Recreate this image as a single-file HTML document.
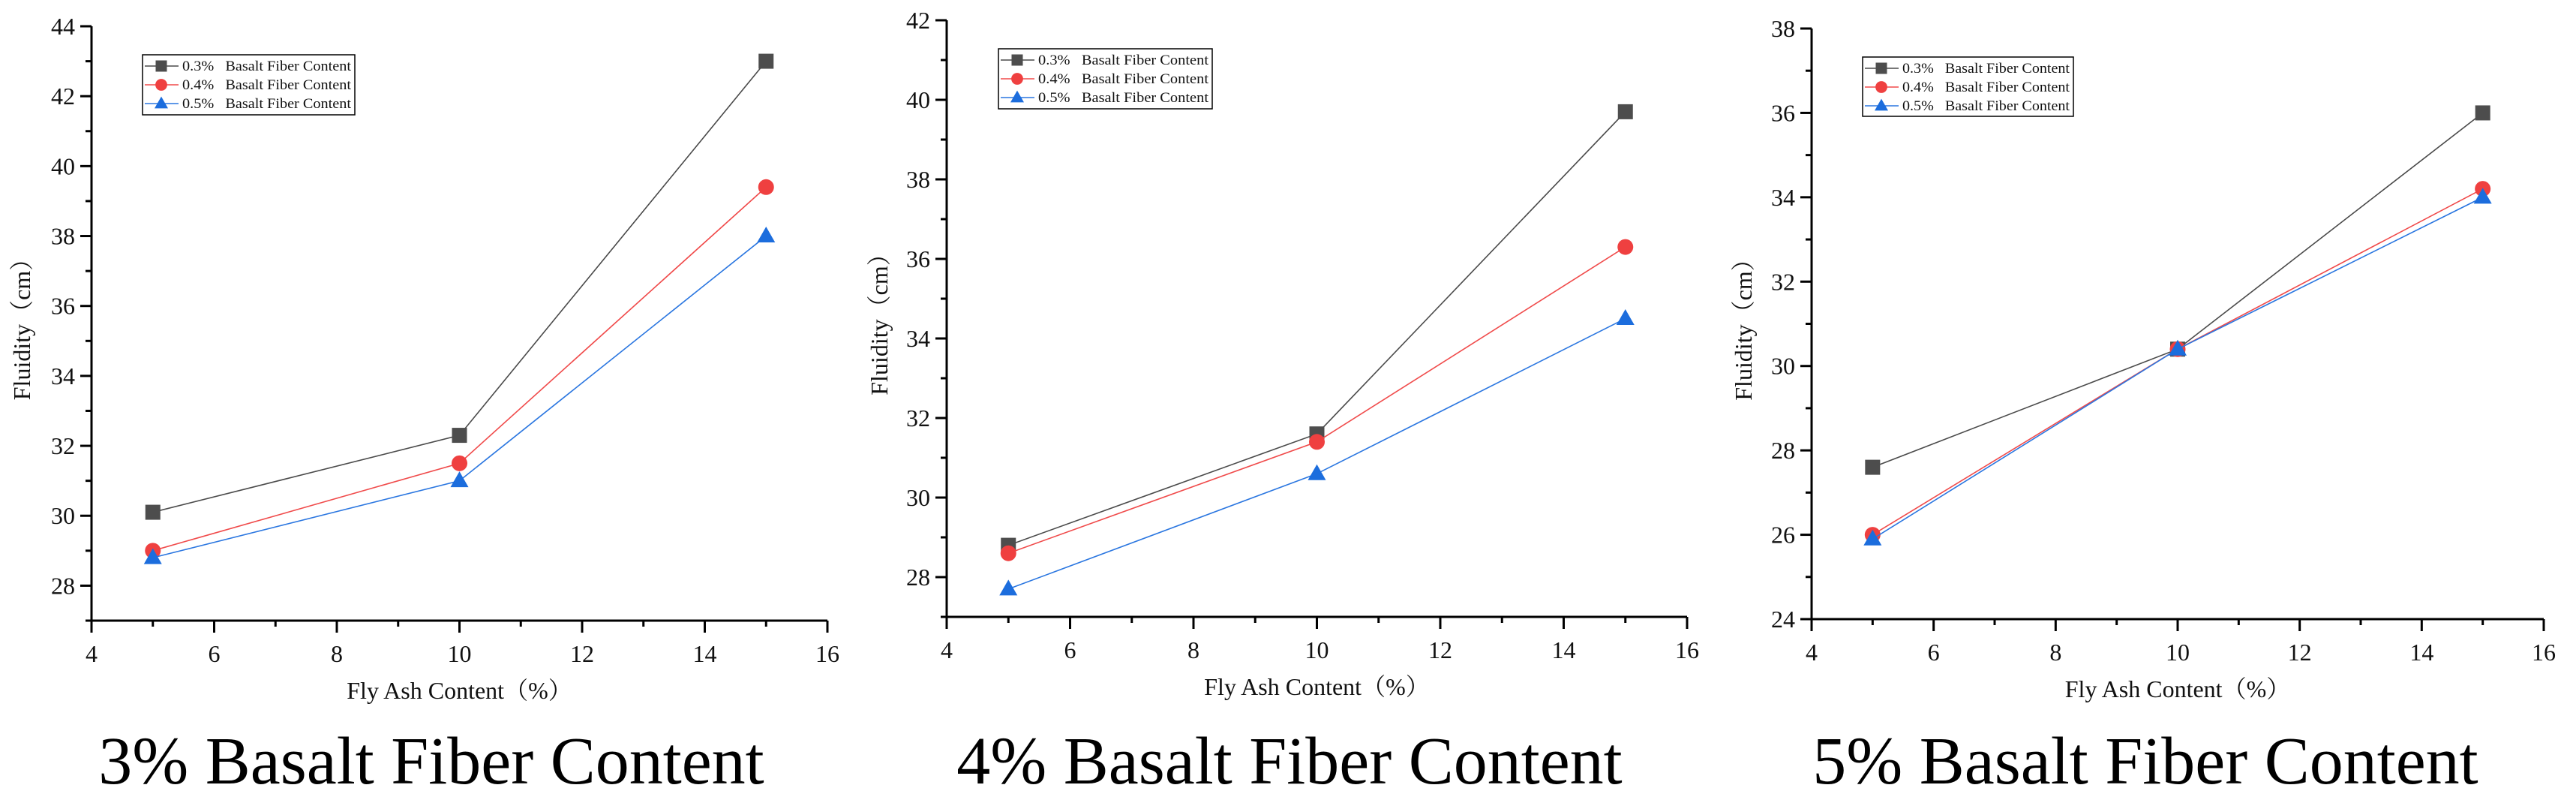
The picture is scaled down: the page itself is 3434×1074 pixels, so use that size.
<!DOCTYPE html>
<html><head><meta charset="utf-8"><style>
html,body{margin:0;padding:0;background:#fff;}
svg{display:block;font-family:"Liberation Serif","Noto Serif CJK SC",serif;}
</style></head><body>
<svg id="chart" width="3434" height="1074" viewBox="0 0 3434 1074" xmlns="http://www.w3.org/2000/svg"></svg>
<script>
const xValues = [5, 10, 15];
const seriesLabels = ["0.3%   Basalt Fiber Content","0.4%   Basalt Fiber Content","0.5%   Basalt Fiber Content"];
const p1Series03 = [30.1, 32.3, 43.0];
const p1Series04 = [29.0, 31.5, 39.4];
const p1Series05 = [28.8, 31.0, 38.0];
const p2Series03 = [28.8, 31.6, 39.7];
const p2Series04 = [28.6, 31.4, 36.3];
const p2Series05 = [27.7, 30.6, 34.5];
const p3Series03 = [27.6, 30.4, 36.0];
const p3Series04 = [26.0, 30.4, 34.2];
const p3Series05 = [25.9, 30.4, 34.0];
const xTickLabels = [4, 6, 8, 10, 12, 14, 16];
const p1YTicks = [28, 30, 32, 34, 36, 38, 40, 42, 44];
const p2YTicks = [28, 30, 32, 34, 36, 38, 40, 42];
const p3YTicks = [24, 26, 28, 30, 32, 34, 36, 38];
const captions = ["3% Basalt Fiber Content","4% Basalt Fiber Content","5% Basalt Fiber Content"];

const NS="http://www.w3.org/2000/svg";
const svg=document.getElementById('chart');
function mk(tag,attrs,parent,text){const e=document.createElementNS(NS,tag);for(const k in attrs)e.setAttribute(k,attrs[k]);if(text!==undefined)e.textContent=text;(parent||svg).appendChild(e);return e;}
const lineColors=["#4a4a4a","#f04a4a","#2a76e0"];
const markColors=["#4d4d4d","#ef4040","#1c6ddd"];
const shapes=["square","circle","triangle"];

function marker(g,shape,cx,cy,color,s){
  let m;
  if(shape==="square") m=mk('rect',{x:cx-s,y:cy-s,width:2*s,height:2*s,fill:color},g);
  else if(shape==="circle") m=mk('circle',{cx:cx,cy:cy,r:s*1.05,fill:color},g);
  else m=mk('polygon',{points:`${cx},${cy-s*1.25} ${cx+s*1.2},${cy+s*0.85} ${cx-s*1.2},${cy+s*0.85}`,fill:color},g);
  return m;
}

const panels=[
 {x0:122,x1:1103,yTop:35,yBot:827,yMax:44,yMin:27,yTicks:p1YTicks,series:[p1Series03,p1Series04,p1Series05],leg:[190,73,283,80],ytx:40,cap:575},
 {x0:1262,x1:2249,yTop:27,yBot:822,yMax:42,yMin:27,yTicks:p2YTicks,series:[p2Series03,p2Series04,p2Series05],leg:[1331,65,285,80],ytx:1183,cap:1719},
 {x0:2415,x1:3391,yTop:38,yBot:825,yMax:38,yMin:24,yTicks:p3YTicks,series:[p3Series03,p3Series04,p3Series05],leg:[2483,76,281,79],ytx:2335,cap:2860}
];

panels.forEach((p,pi)=>{
  const g=mk('g',{});
  
  
  const xs=v=>p.x0+(v-4)/12*(p.x1-p.x0);
  const ys=v=>p.yBot-(v-p.yMin)/(p.yMax-p.yMin)*(p.yBot-p.yTop);
  const ax=mk('path',{d:`M${p.x0},${p.yTop} V${p.yBot} H${p.x1}`,stroke:"#000","stroke-width":3,fill:"none"},g);
  
  
  for(let v=Math.ceil(p.yMin);v<=p.yMax;v++){
    const major=p.yTicks.includes(v);
    mk('line',{x1:p.x0,x2:p.x0-(major?15:8),y1:ys(v),y2:ys(v),stroke:"#000","stroke-width":3},g);
  }
  p.yTicks.forEach(v=>{
    const t=mk('text',{x:p.x0-22,y:ys(v)+11,"text-anchor":"end","font-size":32,fill:"#111"},g,String(v));
    
    
  });
  for(let v=4;v<=16;v++){
    const major=xTickLabels.includes(v);
    mk('line',{x1:xs(v),x2:xs(v),y1:p.yBot,y2:p.yBot+(major?16:8),stroke:"#000","stroke-width":3},g);
  }
  xTickLabels.forEach(v=>{
    const t=mk('text',{x:xs(v),y:p.yBot+55,"text-anchor":"middle","font-size":32,fill:"#111"},g,String(v));
    
    
  });
  const xt=mk('text',{x:(p.x0+p.x1)/2,y:p.yBot+104,"text-anchor":"middle","font-size":32,fill:"#111"},g,"Fly Ash Content（%）");
  
  
  const yt=mk('text',{x:0,y:0,"text-anchor":"middle","font-size":32,fill:"#111",transform:`translate(${p.ytx},${(p.yTop+p.yBot)/2}) rotate(-90)`},g,"Fluidity（cm）");
  
  
  p.series.forEach((s,si)=>{
    const sg=mk('g',{},g);
    
    
    const pts=s.map((v,i)=>xs(xValues[i])+","+ys(v)).join(" ");
    mk('polyline',{points:pts,fill:"none",stroke:lineColors[si],"stroke-width":1.6},sg);
    s.forEach((v,i)=>{
      const m=marker(sg,shapes[si],xs(xValues[i]),ys(v),markColors[si],10);
      
      
    });
  });
  const [lx,ly,lw,lh]=p.leg;
  const lg=mk('g',{},g);
  
  
  mk('rect',{x:lx,y:ly,width:lw,height:lh,fill:"#fff",stroke:"#000","stroke-width":1.5},lg);
  seriesLabels.forEach((lab,si)=>{
    const cy=ly+15+si*25;
    const e=mk('g',{},lg);
    
    
    mk('line',{x1:lx+3,x2:lx+48,y1:cy,y2:cy,stroke:lineColors[si],"stroke-width":1.5},e);
    marker(e,shapes[si],lx+25,cy,markColors[si],7.5);
    mk('text',{x:lx+53,y:cy+6,"font-size":19,fill:"#111",textLength:lw-58,lengthAdjust:"spacingAndGlyphs"},e,lab).setAttribute('style','white-space:pre');
  });
  const c=mk('text',{x:p.cap,y:1044,"text-anchor":"middle","font-size":90,fill:"#000"},g,captions[pi]);
  
  
});
</script>
</body></html>
